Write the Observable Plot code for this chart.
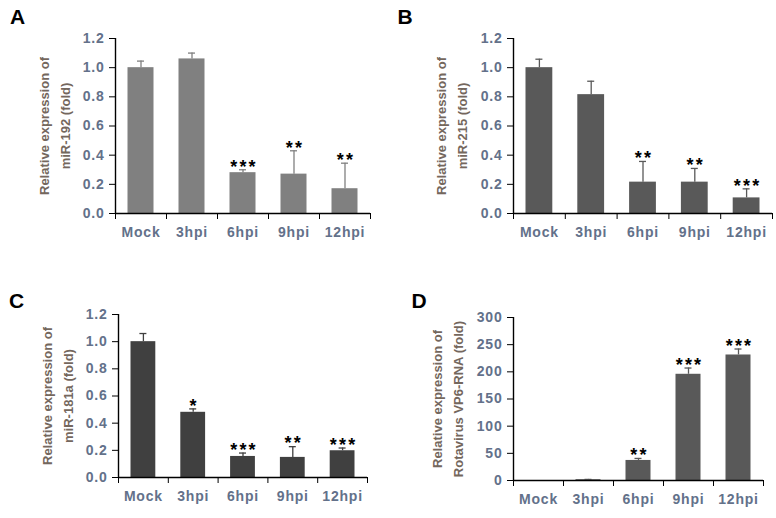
<!DOCTYPE html>
<html><head><meta charset="utf-8">
<script src="https://cdn.jsdelivr.net/npm/d3@7"></script>
<script src="https://cdn.jsdelivr.net/npm/@observablehq/plot@0.6"></script>
<style>
body{margin:0;background:#fff}
#wrap{position:relative;width:776px;height:518px;overflow:hidden}
.panel{position:absolute}
.panel g[aria-label$="tick label"] text{letter-spacing:0.8px}
.lab{position:absolute;font:bold 21px "Liberation Sans",Arial,sans-serif;line-height:21px;color:#000}
</style>
</head><body><div id="wrap"></div>
<script>
const categories = ["Mock", "3hpi", "6hpi", "9hpi", "12hpi"];

const miR192 = [1.00, 1.06, 0.28, 0.27, 0.17];
const miR192Err = [0.045, 0.04, 0.02, 0.16, 0.175];
const miR192Sig = ["", "", "***", "**", "**"];

const miR215 = [1.00, 0.815, 0.215, 0.215, 0.107];
const miR215Err = [0.058, 0.092, 0.142, 0.094, 0.062];
const miR215Sig = ["", "", "**", "**", "***"];

const miR181a = [1.00, 0.48, 0.155, 0.148, 0.197];
const miR181aErr = [0.06, 0.025, 0.025, 0.079, 0.02];
const miR181aSig = ["", "*", "***", "**", "***"];

const vp6 = [0, 1.5, 36.9, 195.5, 231];
const vp6Err = [0, 0.5, 3.7, 11.5, 11];
const vp6Sig = ["", "", "**", "***", "***"];

const ticksMiR = [0, 0.2, 0.4, 0.6, 0.8, 1.0, 1.2];
const ticksVP6 = [0, 50, 100, 150, 200, 250, 300];

const tickColor = "#63718a";
const titleColor = "#74675d";

function panel(cfg) {
  const rows = categories.map((c, i) => ({i, c, v: cfg.values[i], e: cfg.err[i], s: cfg.sig[i]}));
  const p = Plot.plot({
    width: cfg.width, height: cfg.height,
    marginLeft: cfg.ml, marginRight: cfg.mr, marginTop: cfg.mt, marginBottom: cfg.mb,
    style: {fontFamily: "'Liberation Sans', Arial, sans-serif", fontSize: "14px", fontWeight: "bold", color: "black", background: "white"},
    x: {domain: [0, 5]},
    y: {domain: cfg.domain},
    marks: [
      Plot.rectY(rows, {x1: "i", x2: d => d.i + 1, y: "v", fill: cfg.color, insetLeft: 12.5, insetRight: 12.5}),
      Plot.ruleX(rows.filter(d => d.e > 0), {x: d => d.i + 0.5, y1: "v", y2: d => d.v + d.e, stroke: cfg.color, strokeWidth: 1.3}),
      Plot.ruleY(rows.filter(d => d.e > 0), {x1: d => d.i + 0.5, x2: d => d.i + 0.5, y: d => d.v + d.e, stroke: cfg.color, strokeWidth: 1.3, insetLeft: -3.5, insetRight: -3.5}),
      Plot.text(rows.filter(d => d.s), {x: d => d.i + 0.5, y: d => d.v + d.e, text: "s", dx: 1, dy: -3, fontSize: 18, fill: "black"}),
      Plot.ruleX([0], {stroke: "black", strokeWidth: 1.4}),
      Plot.ruleY([0], {stroke: "black", strokeWidth: 1.4}),
      Plot.axisY({ticks: cfg.ticks, tickFormat: cfg.fmt, tickSize: 6, tickPadding: 5, stroke: "black", fill: tickColor, label: null}),
      Plot.axisX({ticks: d3.range(6), tickFormat: () => "", tickSize: 6, stroke: "black", label: null}),
      Plot.axisX({ticks: categories.map((c, i) => i + 0.5), tickFormat: d => categories[Math.floor(d)], tickSize: 0, tickPadding: 14, fill: tickColor, label: null}),
      Plot.text([cfg.title], {frameAnchor: "left", textAnchor: "middle", rotate: -90, dx: cfg.tdx, fontSize: 13, lineHeight: 1.65, fill: titleColor, text: d => d})
    ]
  });
  p.querySelectorAll("text").forEach(t => {
    if (/^\*+$/.test(t.textContent)) t.style.letterSpacing = "2.2px";
  });
  p.classList.add("panel");
  p.style.left = cfg.left + "px";
  p.style.top = cfg.top + "px";
  document.getElementById("wrap").appendChild(p);
  const l = document.createElement("div");
  l.className = "lab";
  l.textContent = cfg.letter;
  l.style.left = cfg.lx + "px";
  l.style.top = cfg.ly + "px";
  document.getElementById("wrap").appendChild(l);
}

const f1 = d3.format(".1f");

panel({letter: "A", lx: 10, ly: 6, left: 0, top: 0, width: 388, height: 259, ml: 115, mr: 18, mt: 38, mb: 46,
  values: miR192, err: miR192Err, sig: miR192Sig, color: "#808080", domain: [0, 1.2], ticks: ticksMiR, fmt: f1,
  title: "Relative expression of\nmiR-192 (fold)", tdx: -63});
panel({letter: "B", lx: 397.5, ly: 6, left: 388, top: 0, width: 388, height: 259, ml: 125, mr: 4, mt: 38, mb: 46,
  values: miR215, err: miR215Err, sig: miR215Sig, color: "#595959", domain: [0, 1.2], ticks: ticksMiR, fmt: f1,
  title: "Relative expression of\nmiR-215 (fold)", tdx: -64});
panel({letter: "C", lx: 9, ly: 290, left: 0, top: 259, width: 388, height: 259, ml: 118, mr: 21, mt: 55, mb: 41,
  values: miR181a, err: miR181aErr, sig: miR181aSig, color: "#404040", domain: [0, 1.2], ticks: ticksMiR, fmt: f1,
  title: "Relative expression of\nmiR-181a (fold)", tdx: -63});
panel({letter: "D", lx: 411.5, ly: 290, left: 388, top: 259, width: 388, height: 259, ml: 125, mr: 13, mt: 58, mb: 38,
  values: vp6, err: vp6Err, sig: vp6Sig, color: "#595959", domain: [0, 300], ticks: ticksVP6, fmt: d3.format("d"),
  title: "Relative expression of\nRotavirus VP6-RNA (fold)", tdx: -68});
</script>
</body></html>
